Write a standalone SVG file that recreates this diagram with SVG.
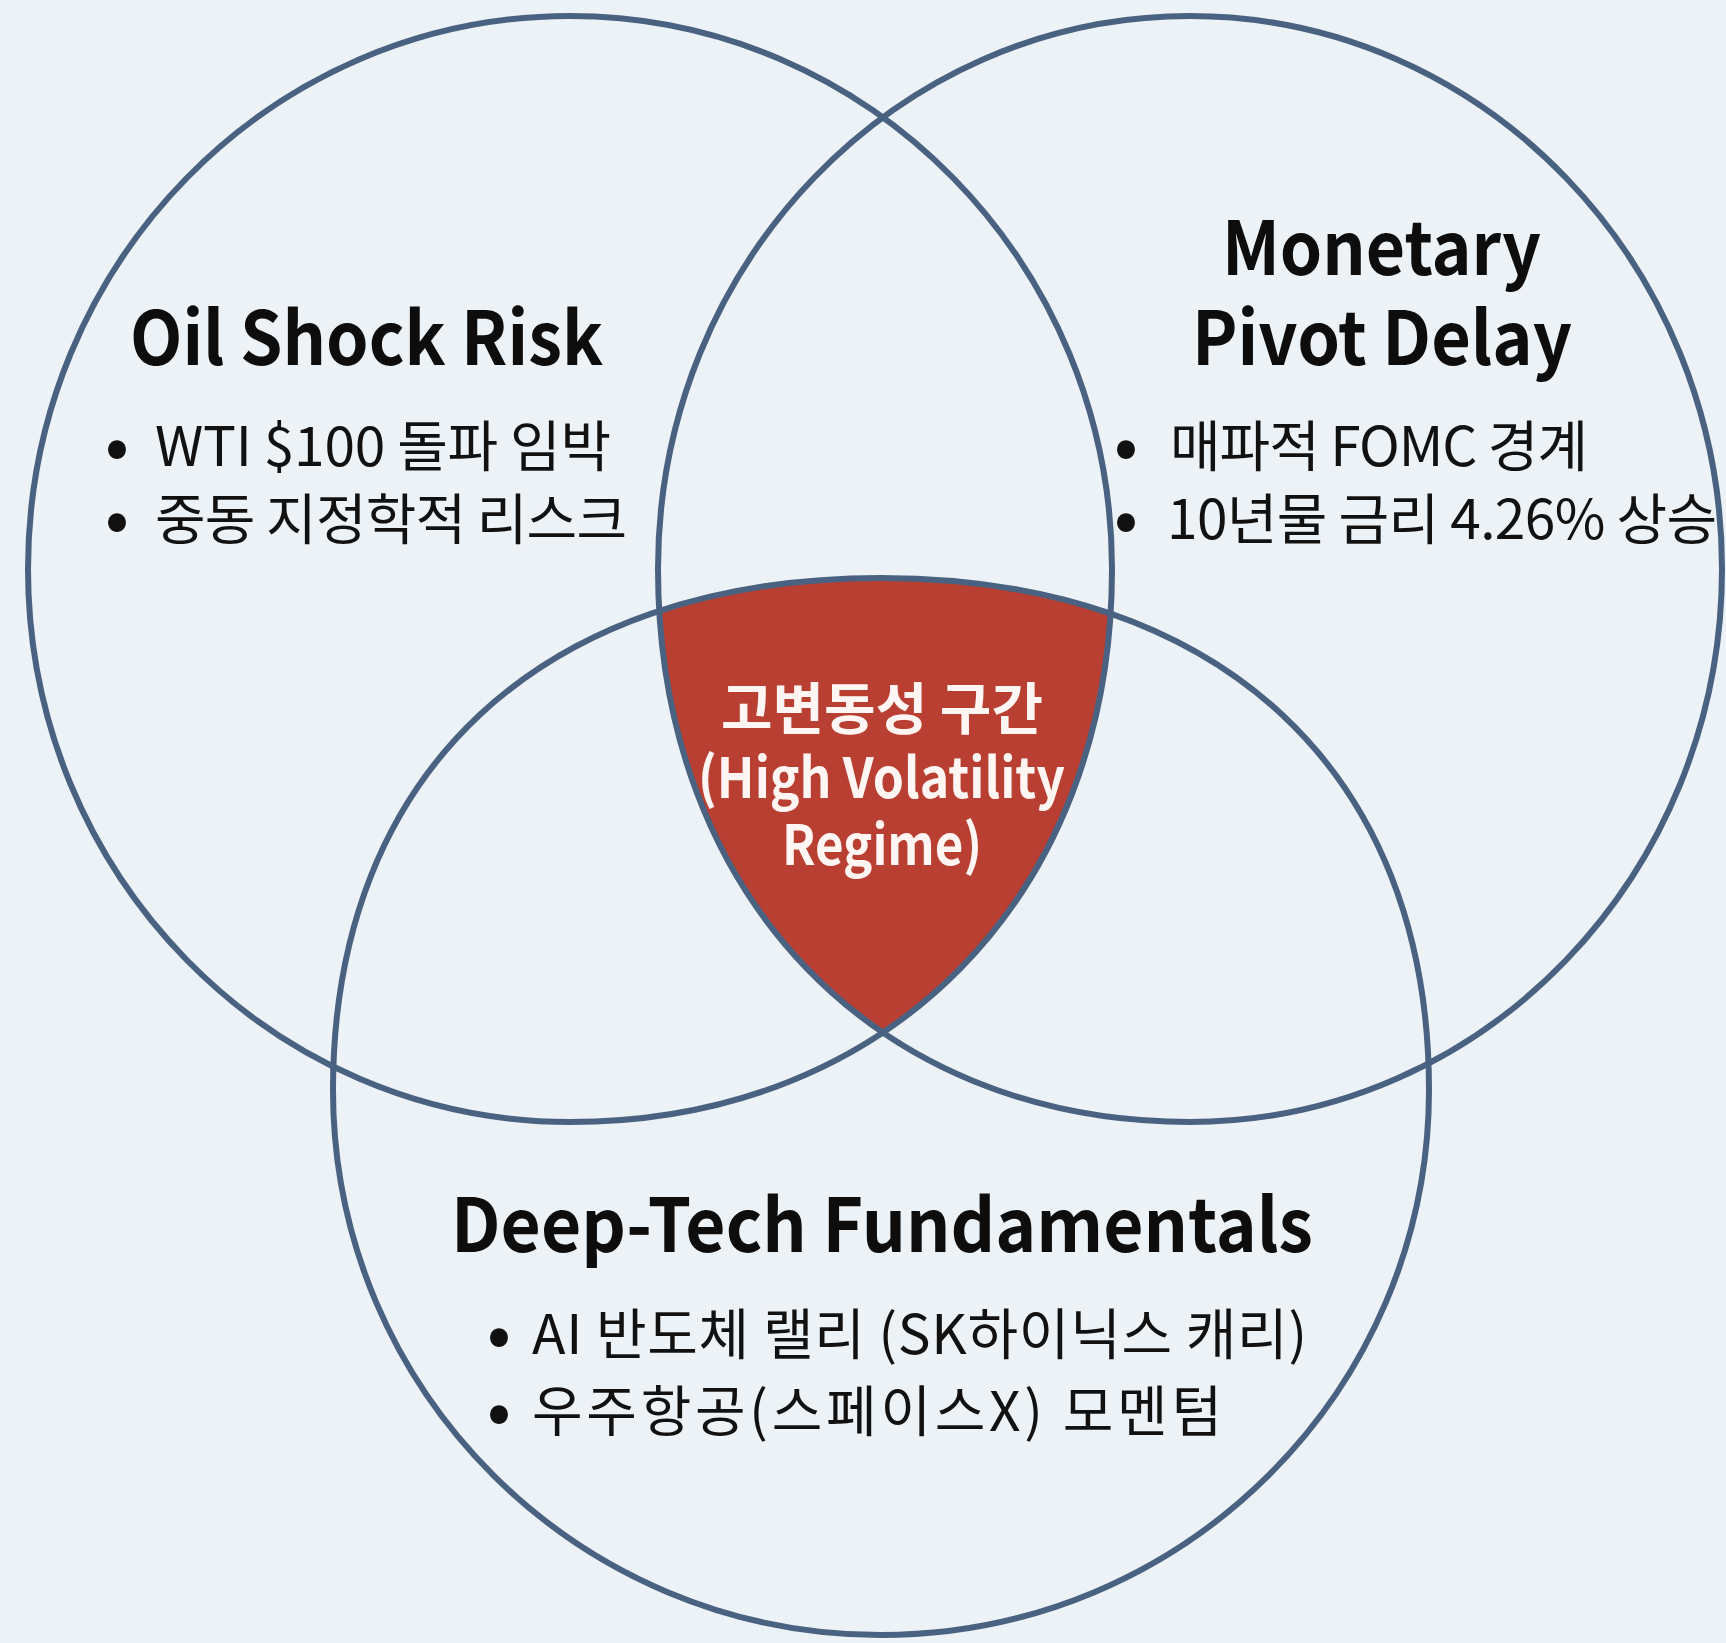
<svg xmlns="http://www.w3.org/2000/svg" width="1726" height="1643" viewBox="0 0 1726 1643">
<style>
.ring{fill:none;stroke:#4a6282;stroke-width:6}
.title{font-family:"Noto Sans CJK KR","Noto Sans",sans-serif;font-weight:700;fill:#0d0d0d;font-size:74px}
.item{font-family:"Noto Sans CJK KR","Noto Sans",sans-serif;font-weight:400;fill:#111;font-size:55px}
.dot{font-family:"Noto Sans CJK KR","Noto Sans",sans-serif;font-weight:700;fill:#111;font-size:62px;text-anchor:middle}
.core{font-family:"Noto Sans CJK KR","Noto Sans",sans-serif;font-weight:700;fill:#fff5f2;font-size:56px}
</style>
<defs>
<path id="shapeL" d="M1112,569 C1112,895.3 889.8,1122 570,1122 C270.7,1122 28,874.4 28,569 C28,263.6 270.7,16 570,16 C869.3,16 1112,263.6 1112,569 Z"/>
<path id="shapeR" d="M1722,569 C1722,874.4 1483.8,1122 1190,1122 C876.1,1122 658,895.3 658,569 C658,263.6 896.2,16 1190,16 C1483.8,16 1722,263.6 1722,569 Z"/>
<path id="shapeB" d="M1429,1090 C1429,1391 1183.7,1635 881,1635 C578.3,1635 333,1391 333,1090 C333,772.6 541.2,578 881,578 C1220.8,578 1429,772.6 1429,1090 Z"/>
<clipPath id="clipL"><use href="#shapeL"/></clipPath>
<clipPath id="clipR"><use href="#shapeR"/></clipPath>
</defs>
<rect width="1726" height="1643" fill="#edf2f6"/>
<g id="core-region" clip-path="url(#clipL)">
<g clip-path="url(#clipR)">
<use href="#shapeB" fill="#b83f31"/>
</g>
</g>
<g id="connectors">
<use id="ring-oil" class="ring" href="#shapeL"/>
<use id="ring-monetary" class="ring" href="#shapeR"/>
<use id="ring-deeptech" class="ring" href="#shapeB"/>
</g>
<g id="node-oil">
<text class="title" x="130" y="365" textLength="473" lengthAdjust="spacingAndGlyphs">Oil Shock Risk</text>
<text class="dot" x="117" y="468">•</text>
<text class="item" x="155" y="466" textLength="456" lengthAdjust="spacing">WTI $100 돌파 임박</text>
<text class="dot" x="117" y="541">•</text>
<text class="item" x="155" y="539" textLength="472" lengthAdjust="spacing">중동 지정학적 리스크</text>
</g>
<g id="node-monetary">
<text class="title" x="1222" y="275" textLength="319" lengthAdjust="spacingAndGlyphs">Monetary</text>
<text class="title" x="1192" y="365" textLength="380" lengthAdjust="spacingAndGlyphs">Pivot Delay</text>
<text class="dot" x="1126" y="468">•</text>
<text class="item" x="1170" y="466" textLength="418" lengthAdjust="spacing">매파적 FOMC 경계</text>
<text class="dot" x="1126" y="541">•</text>
<text class="item" x="1167" y="539" textLength="550" lengthAdjust="spacing">10년물 금리 4.26% 상승</text>
</g>
<g id="node-deeptech">
<text class="title" x="451" y="1252" textLength="862" lengthAdjust="spacingAndGlyphs">Deep-Tech Fundamentals</text>
<text class="dot" x="499" y="1356">•</text>
<text class="item" x="532" y="1354" textLength="775" lengthAdjust="spacing">AI 반도체 랠리 (SK하이닉스 캐리)</text>
<text class="dot" x="499" y="1433">•</text>
<text class="item" x="532" y="1431" textLength="690" lengthAdjust="spacing">우주항공(스페이스X) 모멘텀</text>
</g>
<g id="node-core">
<text class="core" x="882" y="729" text-anchor="middle">고변동성 구간</text>
<text class="core" x="698" y="798" textLength="367" lengthAdjust="spacingAndGlyphs">(High Volatility</text>
<text class="core" x="782" y="865" textLength="200" lengthAdjust="spacingAndGlyphs">Regime)</text>
</g>
</svg>
